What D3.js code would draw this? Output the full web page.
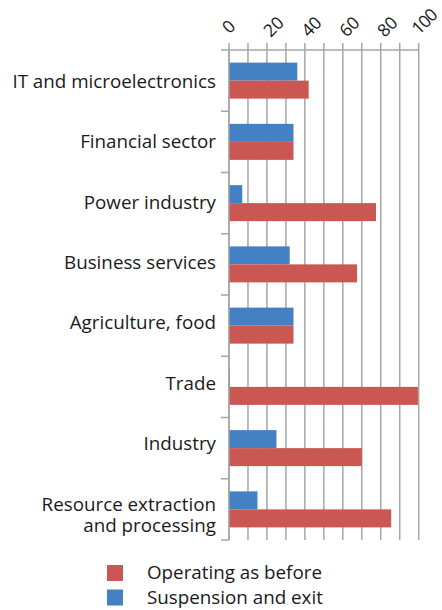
<!DOCTYPE html>
<html>
<head>
<meta charset="utf-8">
<script src="https://cdn.jsdelivr.net/npm/d3@7"></script>
<style>
  html, body { margin: 0; padding: 0; background: #fff; }
  svg { display: block; font-family: "Open Sans", sans-serif; }
</style>
</head>
<body>
<svg id="chart" width="442" height="610"></svg>
<script>
const categories = [
  ["IT and microelectronics"],
  ["Financial sector"],
  ["Power industry"],
  ["Business services"],
  ["Agriculture, food"],
  ["Trade"],
  ["Industry"],
  ["Resource extraction", "and processing"]
];
const seriesNames = ["Suspension and exit", "Operating as before"];
const suspension = [36, 34, 7, 32, 34, 0.5, 25, 15];
const operating  = [42, 34, 77.5, 67.5, 34, 99.6, 70, 85.5];
const xTicks = [0, 20, 40, 60, 80, 100];
const gridTicks = [0, 10, 20, 30, 40, 50, 60, 70, 80, 90, 100];
const colors = ["#4380C4", "#CA5752"];

(function () {
const svg = d3.select("#chart");
const pLeft = 229, pRight = 418.7, pTop = 50, pBottom = 540;
const fontSize = 18.8;
const gridColor = "#A6A6A6";
const textColor = "#1a1a1a";

const x = d3.scaleLinear().domain([0, 100]).range([pLeft, pRight]);
const catKeys = categories.map(c => c.join(" "));
const pad = 1 - 36 / ((pBottom - pTop) / categories.length);
const y = d3.scaleBand().domain(catKeys).range([pTop, pBottom]).paddingInner(pad).paddingOuter(pad / 2);
const ySub = d3.scaleBand().domain(seriesNames).range([0, y.bandwidth()]);
const yLabel = d3.scalePoint().domain(catKeys).range([88, 510.5]);

// vertical gridlines
svg.append("g").selectAll("line").data(gridTicks).join("line")
  .attr("x1", d => x(d)).attr("x2", d => x(d))
  .attr("y1", pTop - 7).attr("y2", pBottom)
  .attr("stroke", gridColor).attr("stroke-width", 1.5);

// top axis line
svg.append("line").attr("x1", pLeft).attr("x2", pRight).attr("y1", pTop).attr("y2", pTop)
  .attr("stroke", gridColor).attr("stroke-width", 1.5);

// tick labels
const tickDx = n => n < 10 ? -1 : (n < 100 ? 6 : 5);
svg.append("g").selectAll("text").data(xTicks).join("text")
  .attr("transform", d => `translate(${x(d) + tickDx(d)},${d === 100 ? 21 : 26}) rotate(-45)`)
  .attr("text-anchor", "middle")
  .attr("dominant-baseline", "central")
  .attr("font-size", 17.5)
  .attr("letter-spacing", d => d === 100 ? -1 : 0)
  .attr("fill", textColor)
  .text(d => d);

// bars
const data = catKeys.map((k, i) => ({ k, vals: [suspension[i], operating[i]] }));
const groups = svg.append("g").selectAll("g").data(data).join("g")
  .attr("transform", d => `translate(0,${y(d.k)})`);
groups.selectAll("rect").data(d => d.vals.map((v, j) => ({ v, s: seriesNames[j], j }))).join("rect")
  .attr("x", x(0))
  .attr("y", d => ySub(d.s))
  .attr("width", d => x(d.v) - x(0))
  .attr("height", ySub.bandwidth())
  .attr("fill", d => colors[d.j]);

// category axis
const step = y.step();
svg.append("line").attr("x1", pLeft).attr("x2", pLeft).attr("y1", pTop).attr("y2", pBottom)
  .attr("stroke", gridColor).attr("stroke-width", 1.5);
svg.append("g").selectAll("line").data(d3.range(categories.length + 1)).join("line")
  .attr("x1", pLeft - 8).attr("x2", pLeft)
  .attr("y1", i => pTop + i * step).attr("y2", i => pTop + i * step)
  .attr("stroke", gridColor).attr("stroke-width", 1.5);

// category labels
const labels = svg.append("g").selectAll("text").data(categories).join("text")
  .attr("text-anchor", "end")
  .attr("font-size", fontSize)
  .attr("fill", textColor);
labels.each(function(lines, i) {
  const y0 = yLabel(catKeys[i]);
  d3.select(this).selectAll("tspan").data(lines).join("tspan")
    .attr("x", 216)
    .attr("y", (l, j) => y0 + j * 21)
    .text(l => l);
});

// legend
const legendItems = [{ name: seriesNames[1], c: colors[1] }, { name: seriesNames[0], c: colors[0] }];
const lg = svg.append("g").selectAll("g").data(legendItems).join("g")
  .attr("transform", (d, i) => `translate(107,${565 + i * 24.5})`);
lg.append("rect").attr("width", 16).attr("height", 16).attr("fill", d => d.c);
lg.append("text").attr("x", 40).attr("y", 14).attr("font-size", fontSize)
  .attr("fill", textColor).text(d => d.name);
})();
</script>
</body>
</html>
